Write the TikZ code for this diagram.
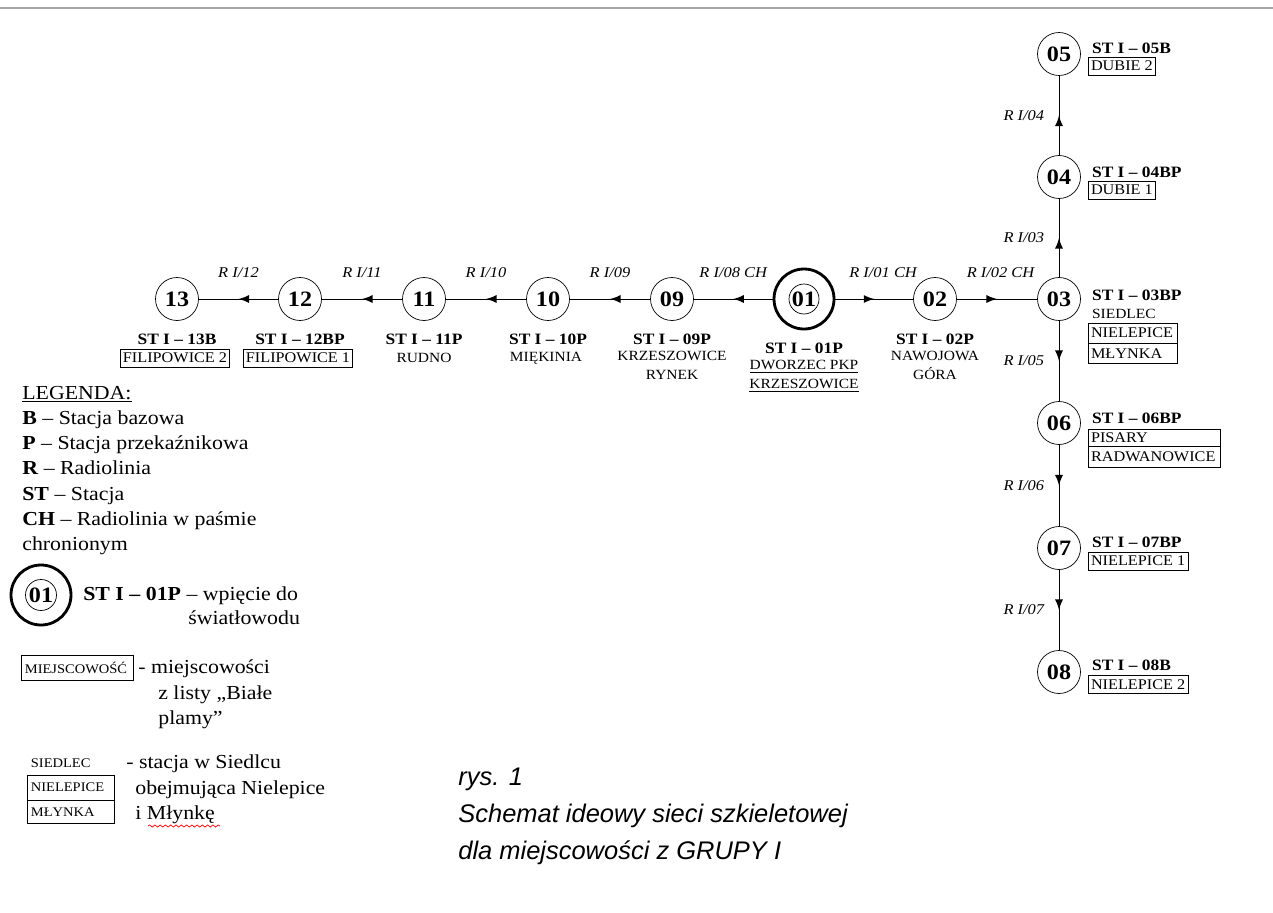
\documentclass[tikz,border=0pt]{standalone}
\usepackage{fontspec}
\setmainfont[FakeStretch=1.1]{Liberation Serif}
\newfontfamily\capfont{Liberation Sans}
\usepackage{tikz}
\usetikzlibrary{positioning,arrows,decorations.markings,decorations.pathmorphing}

\tikzset{
  stn/.style={draw, circle, thin, minimum size=0.86cm, inner sep=0pt, font=\fontsize{12.5}{13}\selectfont\bfseries},
  hub/.style={draw, circle, line width=1.6pt, minimum size=1.2cm, inner sep=0pt},
  link/.style={thin, postaction={decorate}, decoration={markings, mark=at position 0.5 with {\arrow[scale=1.5]{latex}}}},
  rlbl/.style={font=\fontsize{8.5}{9}\selectfont\itshape, inner sep=0pt},
  stname/.style={font=\fontsize{9}{10}\selectfont\bfseries, inner sep=1pt},
  place/.style={font=\fontsize{8}{10.8}\selectfont, inner sep=1pt, align=center},
  placebox/.style={draw, thin, font=\fontsize{8.4}{9}\selectfont, inner sep=1.5pt, minimum height=0.36cm, anchor=west},
  legtext/.style={font=\fontsize{11.3}{14}\selectfont, inner sep=0pt, anchor=base west},
  smallbox/.style={draw, thin, font=\fontsize{7.5}{8}\selectfont, inner sep=2pt, align=left, anchor=west},
}

\begin{document}
\begin{tikzpicture}[x=0.02cm, y=-0.02cm]
  \useasboundingbox (0,0) rectangle (1273,912);
  \draw[gray!70, line width=0.8pt] (0,8) -- (1273,8);

  % stacje w poziomie
  \node[stn] (n13) at (177,299) {13};
  \node[stn] (n12) at (300,299) {12};
  \node[stn] (n11) at (424,299) {11};
  \node[stn] (n10) at (548,299) {10};
  \node[stn] (n09) at (672,299) {09};
  \node[hub] (n01) at (804,299) {};
  \node[stn, minimum size=0.6cm] (n01in) at (n01) {01};
  \node[stn] (n02) at (935,299) {02};
  \node[stn] (n03) at (1059,299) {03};
  % stacje w pionie
  \node[stn] (n04) at (1059,177) {04};
  \node[stn] (n05) at (1059,54) {05};
  \node[stn] (n06) at (1059,423) {06};
  \node[stn] (n07) at (1059,548) {07};
  \node[stn] (n08) at (1059,672) {08};

  % radiolinie
  \draw[link] (n01) -- (n09) node[rlbl, midway, yshift=15pt] {R I/08 CH};
  \draw[link] (n09) -- (n10) node[rlbl, midway, yshift=15pt] {R I/09};
  \draw[link] (n10) -- (n11) node[rlbl, midway, yshift=15pt] {R I/10};
  \draw[link] (n11) -- (n12) node[rlbl, midway, yshift=15pt] {R I/11};
  \draw[link] (n12) -- (n13) node[rlbl, midway, yshift=15pt] {R I/12};
  \draw[link] (n01) -- (n02) node[rlbl, midway, xshift=5pt, yshift=15pt] {R I/01 CH};
  \draw[link] (n02) -- (n03) node[rlbl, midway, xshift=2pt, yshift=15pt] {R I/02 CH};
  \draw[link] (n03) -- (n04) node[rlbl, midway, xshift=-20pt] {R I/03};
  \draw[link] (n04) -- (n05) node[rlbl, midway, xshift=-20pt] {R I/04};
  \draw[link] (n03) -- (n06) node[rlbl, midway, xshift=-20pt] {R I/05};
  \draw[link] (n06) -- (n07) node[rlbl, midway, xshift=-20pt] {R I/06};
  \draw[link] (n07) -- (n08) node[rlbl, midway, xshift=-20pt] {R I/07};

  % opisy pod stacjami
  \node[stname] (s13) at (177,339) {ST I – 13B};
  \node[placebox, anchor=center] (p13) at (175,358) {FILIPOWICE 2};
  \node[stname] (s12) at (300,339) {ST I – 12BP};
  \node[placebox, anchor=center] (p12) at (298,358) {FILIPOWICE 1};
  \node[stname] (s11) at (424,339) {ST I – 11P};
  \node[place] (p11) at (424,358) {RUDNO};
  \node[stname] (s10) at (548,339) {ST I – 10P};
  \node[place] (p10) at (546,358) {MIĘKINIA};
  \node[stname] (s09) at (672,339) {ST I – 09P};
  \node[place, anchor=north] (p09) at (672,349) {KRZESZOWICE\\RYNEK};
  \node[stname] (s01) at (804,348) {ST I – 01P};
  \node[place, anchor=north] (p01) at (804,358) {\underline{DWORZEC PKP}\\\underline{KRZESZOWICE}};
  \node[stname] (s02) at (935,339) {ST I – 02P};
  \node[place, anchor=north] (p02) at (935,349) {NAWOJOWA\\GÓRA};

  % opisy obok stacji
  \node[stname, anchor=west] (s05) at (1090,48) {ST I – 05B};
  \node[placebox] (p05) at (1088,66) {DUBIE 2};
  \node[stname, anchor=west] (s04) at (1090,172) {ST I – 04BP};
  \node[placebox] (p04) at (1088,190) {DUBIE 1};
  \node[stname, anchor=west] (s03) at (1090,295) {ST I – 03BP};
  \node[place, anchor=west] (p03) at (1090,314) {SIEDLEC};
  \node[placebox, text width=1.67cm, align=left, minimum height=0.4cm] (p03a) at (1088,333) {NIELEPICE};
  \node[placebox, text width=1.67cm, align=left, minimum height=0.39cm, anchor=north west] (p03b) at (p03a.south west) {MŁYNKA};
  \node[stname, anchor=west] (s06) at (1090,418) {ST I – 06BP};
  \node[placebox, text width=2.53cm, align=left, minimum height=0.34cm] (p06a) at (1088,437.5) {PISARY};
  \node[placebox, text width=2.53cm, align=left, minimum height=0.42cm, anchor=north west] (p06b) at (p06a.south west) {RADWANOWICE};
  \node[stname, anchor=west] (s07) at (1090,542) {ST I – 07BP};
  \node[placebox] (p07) at (1088,561) {NIELEPICE 1};
  \node[stname, anchor=west] (s08) at (1090,665) {ST I – 08B};
  \node[placebox] (p08) at (1088,684.5) {NIELEPICE 2};

  % legenda
  \node[legtext] (leg0) at (22,399) {\underline{LEGENDA:}};
  \foreach \k/\t [count=\i] in {B/Stacja bazowa, P/Stacja przekaźnikowa, R/Radiolinia, ST/Stacja, CH/Radiolinia w paśmie}
    \node[legtext] (leg\i) at (22,399+25.3*\i) {\textbf{\k} – \t};
  \node[legtext] (leg6) at (22,550) {chronionym};

  \node[hub] (lg01) at (41,595) {};
  \node[stn, minimum size=0.62cm] (lg01in) at (lg01) {01};
  \node[legtext] (lgst) at (83,600) {\textbf{ST I – 01P} – wpięcie do};
  \node[legtext] (lgst2) at (188,624) {światłowodu};

  \node[smallbox, text width=2.1cm, minimum height=0.5cm] (lgbox) at (21,668) {MIEJSCOWOŚĆ};
  \node[legtext] (lgm1) at (138,673) {- miejscowości};
  \node[legtext] (lgm2) at (158,699) {z listy „Białe};
  \node[legtext] (lgm3) at (158,724) {plamy”};

  \node[smallbox, draw=none] (lgs0) at (27,763) {SIEDLEC};
  \node[smallbox, text width=1.6cm, minimum height=0.5cm] (lgs1) at (27,787.5) {NIELEPICE};
  \node[smallbox, text width=1.6cm, minimum height=0.46cm, anchor=north west] (lgs2) at (lgs1.south west) {MŁYNKA};
  \node[legtext] (lgt1) at (126,768) {- stacja w Siedlcu};
  \node[legtext] (lgt2) at (135,794) {obejmująca Nielepice};
  \node[legtext] (lgt3) at (135,819) {i Młynkę};
  \draw[red, thin, decorate, decoration={snake, amplitude=0.6pt, segment length=3pt}] (148,826) -- (220,826);

  % podpis
  \node[anchor=base west, inner sep=0pt, font=\capfont\itshape\fontsize{14.5}{17}\selectfont] (cap1) at (458,785) {rys. 1};
  \node[anchor=base west, inner sep=0pt, font=\capfont\itshape\fontsize{14.5}{17}\selectfont] (cap2) at (458,822) {Schemat ideowy sieci szkieletowej};
  \node[anchor=base west, inner sep=0pt, font=\capfont\itshape\fontsize{14.5}{17}\selectfont] (cap3) at (458,859) {dla miejscowości z GRUPY I};
\end{tikzpicture}
\end{document}
